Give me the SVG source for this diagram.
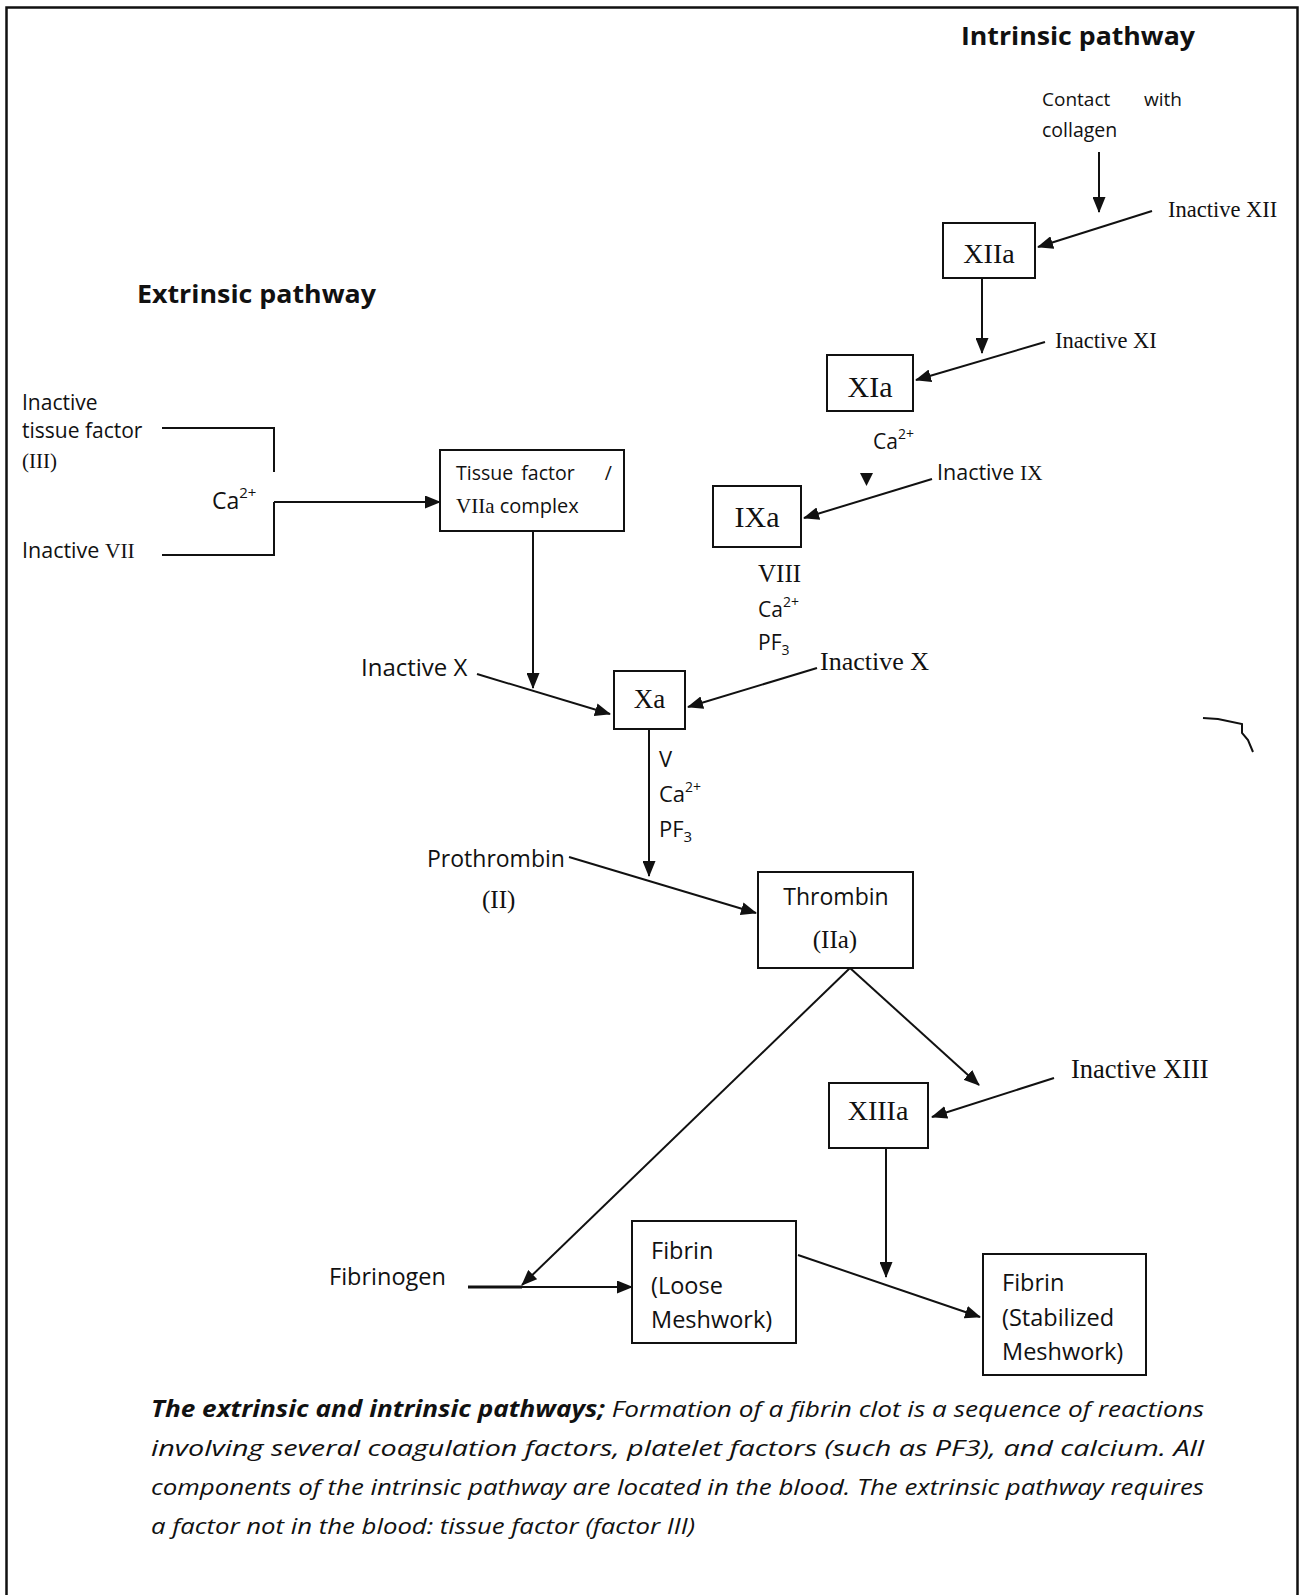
<svg xmlns="http://www.w3.org/2000/svg" width="1303" height="1595" viewBox="0 0 1303 1595">
<style>
.sans{font-family:"Open Sans","Liberation Sans",sans-serif;fill:#111}
.serif{font-family:"Liberation Serif","Times New Roman",serif;fill:#111}
.title{font-family:"Open Sans","Liberation Sans",sans-serif;font-weight:bold;font-size:25px;fill:#111}
.box{fill:#fff;stroke:#111;stroke-width:2}
.ln{fill:none;stroke:#111;stroke-width:2}
.cap{font-family:"Open Sans","Liberation Sans",sans-serif;font-style:italic;font-size:22.5px;fill:#111}
</style>
<defs>
<marker id="ah" markerUnits="userSpaceOnUse" markerWidth="17" markerHeight="13" refX="15" refY="6.5" orient="auto">
<path d="M0,0 L16,6.5 L0,13 z" fill="#111"/>
</marker>
</defs>
<rect x="0" y="0" width="1303" height="1595" fill="#fff"/>
<path d="M6.5,1595 V7.5 H1297.5 V1595" fill="none" stroke="#111" stroke-width="2.5"/>

<text class="title" x="961" y="45" textLength="234" lengthAdjust="spacingAndGlyphs">Intrinsic pathway</text>
<text class="title" x="137" y="303" textLength="239" lengthAdjust="spacingAndGlyphs">Extrinsic pathway</text>

<g id="connectors">
<line class="ln" x1="1099" y1="152" x2="1099" y2="212" marker-end="url(#ah)"/>
<line class="ln" x1="1152" y1="211" x2="1038" y2="247" marker-end="url(#ah)"/>
<line class="ln" x1="982" y1="278" x2="982" y2="353" marker-end="url(#ah)"/>
<line class="ln" x1="1045" y1="342" x2="916" y2="380" marker-end="url(#ah)"/>
<polygon points="860,473 873,473 866.5,486" fill="#111"/>
<line class="ln" x1="932" y1="479" x2="804" y2="518" marker-end="url(#ah)"/>
<line class="ln" x1="817" y1="668" x2="688" y2="707" marker-end="url(#ah)"/>
<line class="ln" x1="477" y1="674" x2="610" y2="714" marker-end="url(#ah)"/>
<line class="ln" x1="533" y1="531" x2="533" y2="688" marker-end="url(#ah)"/>
<line class="ln" x1="649" y1="729" x2="649" y2="876" marker-end="url(#ah)"/>
<line class="ln" x1="569" y1="857" x2="756" y2="913" marker-end="url(#ah)"/>
<line class="ln" x1="850" y1="968" x2="979" y2="1085" marker-end="url(#ah)"/>
<line class="ln" x1="850" y1="968" x2="522" y2="1285" marker-end="url(#ah)"/>
<line class="ln" x1="1054" y1="1078" x2="932" y2="1117" marker-end="url(#ah)"/>
<line class="ln" x1="886" y1="1148" x2="886" y2="1277" marker-end="url(#ah)"/>
<line class="ln" x1="798" y1="1255" x2="980" y2="1317" marker-end="url(#ah)"/>
<line class="ln" x1="468" y1="1287" x2="632" y2="1287" marker-end="url(#ah)"/>
<line x1="468" y1="1287" x2="522" y2="1287" stroke="#111" stroke-width="3"/>
<polyline class="ln" points="162,428 274,428 274,472"/>
<polyline class="ln" points="162,555 274,555 274,502"/>
<line class="ln" x1="274" y1="502" x2="440" y2="502" stroke-width="2.6" marker-end="url(#ah)"/>
<path class="ln" d="M1203,718 L1218,719 L1242,724 L1242,733 L1248,740 L1253,752" stroke-width="2.2"/>
</g>

<g id="n-contact">
<text class="sans" font-size="19" x="1042" y="106">Contact</text>
<text class="sans" font-size="19" x="1182" y="106" text-anchor="end">with</text>
<text class="sans" font-size="19.5" x="1042" y="137">collagen</text>
</g>
<g id="n-inactive-xii"><text class="serif" font-size="22.5" x="1168" y="217">Inactive XII</text></g>
<g id="n-xiia"><rect class="box" x="943" y="223" width="92" height="55"/><text class="serif" font-size="28" x="989" y="263" text-anchor="middle">XIIa</text></g>
<g id="n-inactive-xi"><text class="serif" font-size="22.5" x="1055" y="348">Inactive XI</text></g>
<g id="n-xia"><rect class="box" x="827" y="355" width="86" height="56"/><text class="serif" font-size="30" x="870" y="397" text-anchor="middle">XIa</text></g>
<g id="n-ca-xia"><text class="sans" font-size="21" x="873" y="449">Ca<tspan font-size="14" dy="-10">2+</tspan></text></g>
<g id="n-inactive-ix"><text class="sans" font-size="21.5" x="937" y="480">Inactive <tspan class="serif">IX</tspan></text></g>
<g id="n-ixa"><rect class="box" x="713" y="486" width="88" height="61"/><text class="serif" font-size="30" x="757" y="527" text-anchor="middle">IXa</text></g>
<g id="n-ixa-cofactors">
<text class="serif" font-size="25" x="758" y="582">VIII</text>
<text class="sans" font-size="21" x="758" y="617">Ca<tspan font-size="14" dy="-10">2+</tspan></text>
<text class="sans" font-size="21" x="758" y="650">PF<tspan font-size="14" dy="5">3</tspan></text>
</g>
<g id="n-inactive-x-right"><text class="serif" font-size="26" x="820" y="670">Inactive X</text></g>

<g id="n-inactive-tf">
<text class="sans" font-size="21" x="22" y="410">Inactive</text>
<text class="sans" font-size="21" x="22" y="438">tissue factor</text>
<text class="serif" font-size="21" x="22" y="468">(III)</text>
</g>
<g id="n-inactive-vii"><text class="sans" font-size="21.5" x="22" y="558">Inactive <tspan class="serif">VII</tspan></text></g>
<g id="n-ca-ext"><text class="sans" font-size="23" x="212" y="509">Ca<tspan font-size="15" dy="-11">2+</tspan></text></g>
<g id="n-tf-complex">
<rect class="box" x="440" y="450" width="184" height="81"/>
<text class="sans" font-size="19.5" x="456" y="480">Tissue</text>
<text class="sans" font-size="19.5" x="548" y="480" text-anchor="middle">factor</text>
<text class="sans" font-size="19.5" x="612" y="480" text-anchor="end">/</text>
<text class="sans" font-size="20" x="456" y="513"><tspan class="serif" font-size="21">VIIa</tspan> complex</text>
</g>

<g id="n-inactive-x-left"><text class="sans" font-size="24" x="361" y="676">Inactive X</text></g>
<g id="n-xa"><rect class="box" x="614" y="671" width="71" height="58"/><text class="serif" font-size="27" x="649.5" y="708" text-anchor="middle">Xa</text></g>
<g id="n-xa-cofactors">
<text class="sans" font-size="22" x="659" y="767">V</text>
<text class="sans" font-size="22" x="659" y="802">Ca<tspan font-size="14" dy="-10">2+</tspan></text>
<text class="sans" font-size="22" x="659" y="837">PF<tspan font-size="15" dy="5">3</tspan></text>
</g>
<g id="n-prothrombin">
<text class="sans" font-size="23" x="427" y="867">Prothrombin</text>
<text class="serif" font-size="25" x="482" y="908">(II)</text>
</g>
<g id="n-thrombin">
<rect class="box" x="758" y="872" width="155" height="96"/>
<text class="sans" font-size="23" x="836" y="905" text-anchor="middle">Thrombin</text>
<text class="serif" font-size="25" x="835" y="948" text-anchor="middle">(IIa)</text>
</g>
<g id="n-inactive-xiii"><text class="serif" font-size="26.5" x="1071" y="1078">Inactive XIII</text></g>
<g id="n-xiiia"><rect class="box" x="829" y="1083" width="99" height="65"/><text class="serif" font-size="28" x="878" y="1120" text-anchor="middle">XIIIa</text></g>
<g id="n-fibrinogen"><text class="sans" font-size="23.5" x="329" y="1285">Fibrinogen</text></g>
<g id="n-fibrin-loose">
<rect class="box" x="632" y="1221" width="164" height="122"/>
<text class="sans" font-size="23.5" x="651" y="1259">Fibrin</text>
<text class="sans" font-size="23.5" x="651" y="1294">(Loose</text>
<text class="sans" font-size="23.5" x="651" y="1328">Meshwork)</text>
</g>
<g id="n-fibrin-stab">
<rect class="box" x="983" y="1254" width="163" height="121"/>
<text class="sans" font-size="23.5" x="1002" y="1291">Fibrin</text>
<text class="sans" font-size="23.5" x="1002" y="1326">(Stabilized</text>
<text class="sans" font-size="23.5" x="1002" y="1360">Meshwork)</text>
</g>

<g id="caption">
<text class="cap" x="151" y="1417" textLength="1053" lengthAdjust="spacingAndGlyphs"><tspan font-weight="bold">The extrinsic and intrinsic pathways;</tspan> Formation of a fibrin clot is a sequence of reactions</text>
<text class="cap" x="151" y="1456" textLength="1053" lengthAdjust="spacingAndGlyphs">involving several coagulation factors, platelet factors (such as PF3), and calcium. All</text>
<text class="cap" x="151" y="1495" textLength="1053" lengthAdjust="spacingAndGlyphs">components of the intrinsic pathway are located in the blood. The extrinsic pathway requires</text>
<text class="cap" x="151" y="1534" textLength="544" lengthAdjust="spacingAndGlyphs">a factor not in the blood: tissue factor (factor III)</text>
</g>
</svg>
